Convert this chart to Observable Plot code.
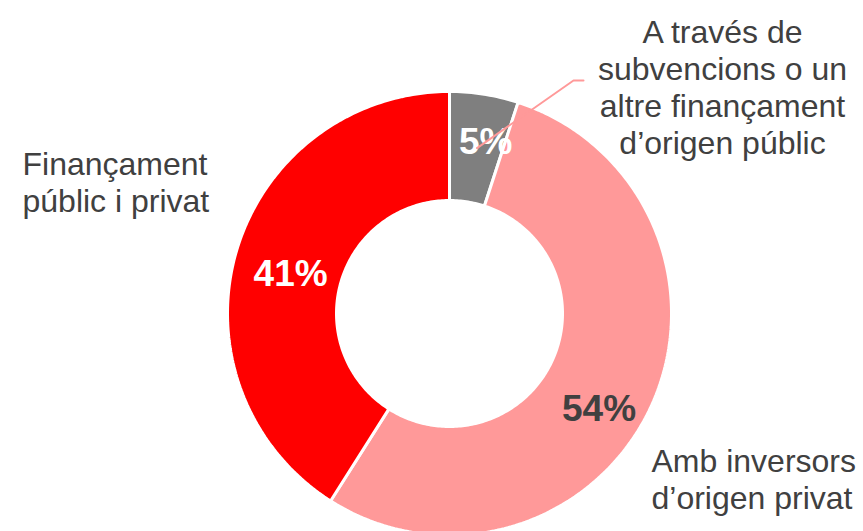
<!DOCTYPE html>
<html>
<head>
<meta charset="utf-8">
<script src="https://cdn.jsdelivr.net/npm/d3@7"></script>
<script src="https://cdn.jsdelivr.net/npm/@observablehq/plot@0.6"></script>
<style>
  html, body { margin: 0; padding: 0; background: #fff; }
  #chart svg { display: block; }
</style>
</head>
<body>
<div id="chart"></div>
<script>
// ---- Data ----
const categories = [
  "A través de subvencions o un altre finançament d’origen públic",
  "Amb inversors d’origen privat",
  "Finançament públic i privat"
];
const values = [5, 54, 41];
const pctLabels = ["5%", "54%", "41%"];
const colors = ["#7f7f7f", "#ff9999", "#ff0000"];
const pctColors = ["#ffffff", "#404040", "#ffffff"];
const outerLabels = [
  ["A través de", "subvencions o un", "altre finançament", "d’origen públic"],
  ["Amb inversors", "d’origen privat"],
  ["Finançament", "públic i privat"]
];

// ---- Layout ----
const W = 863, H = 531;
const cx = 449, cy = 313, R = 222, r = 113;
const labelOffsets = [[10, -6], [-2, 24], [2, 7]];          // pct label nudges from centroid
const outerAnchors = [                                        // [x, first baseline y, anchor]
  [722, 35, "middle"], [651, 464, "start"], [22, 167, "start"]
];
const lineStep = 37;
const leaderElbow = [[573, 80], [583, 80]];

// ---- Geometry from data ----
const pie = d3.pie().sort(null).value(d => d)(values);
const slicePts = [];
pie.forEach((p, i) => {
  const n = Math.max(8, Math.ceil((p.endAngle - p.startAngle) * 60));
  const pts = [];
  for (let k = 0; k <= n; k++) {
    const a = p.startAngle + (p.endAngle - p.startAngle) * k / n;
    pts.push([cx + R * Math.sin(a), cy - R * Math.cos(a)]);
  }
  for (let k = n; k >= 0; k--) {
    const a = p.startAngle + (p.endAngle - p.startAngle) * k / n;
    pts.push([cx + r * Math.sin(a), cy - r * Math.cos(a)]);
  }
  pts.push(pts[0]);
  pts.forEach(([x, y]) => slicePts.push({x, y, cat: categories[i], color: colors[i]}));
});

const rc = (R + r) / 2;
const pctData = pie.map((p, i) => {
  const a = (p.startAngle + p.endAngle) / 2;
  return {
    x: cx + rc * Math.sin(a) + labelOffsets[i][0],
    y: cy - rc * Math.cos(a) + labelOffsets[i][1],
    text: pctLabels[i], color: pctColors[i]
  };
});

const outerData = [];
outerLabels.forEach((lines, i) => {
  lines.forEach((t, j) => outerData.push({
    x: outerAnchors[i][0], y: outerAnchors[i][1] + j * lineStep,
    text: t, anchor: outerAnchors[i][2]
  }));
});

const gA = (pie[0].startAngle + pie[0].endAngle) / 2;
const leader = [
  {x: cx + (rc + 2) * Math.sin(gA) + 1, y: cy - (rc + 2) * Math.cos(gA) + 2},
  ...leaderElbow.map(([x, y]) => ({x, y}))
];

const font = "'Liberation Sans', Arial, Helvetica, sans-serif";

const chart = Plot.plot({
  width: W, height: H,
  margin: 0,
  x: {domain: [0, W], range: [0, W], axis: null},
  y: {domain: [0, H], range: [0, H], axis: null},
  style: {fontFamily: font, background: "#fff"},
  marks: [
    Plot.line(slicePts, {
      x: "x", y: "y", z: "cat",
      fill: "color", stroke: "#ffffff", strokeWidth: 3,
      strokeLinejoin: "miter", curve: "linear"
    }),
    Plot.text(pctData, {
      x: "x", y: "y", text: "text", fill: "color",
      fontSize: 37, fontWeight: "bold", textAnchor: "middle", lineAnchor: "middle"
    }),
    Plot.line(leader, {x: "x", y: "y", stroke: "#ff9999", strokeWidth: 2}),
    ...["start", "middle"].map(anchor => Plot.text(outerData.filter(d => d.anchor === anchor), {
      x: "x", y: "y", text: "text", fill: "#404040",
      fontSize: 32, textAnchor: anchor, lineAnchor: "bottom", dy: 7
    }))
  ]
});

document.getElementById("chart").appendChild(chart);
</script>
</body>
</html>
